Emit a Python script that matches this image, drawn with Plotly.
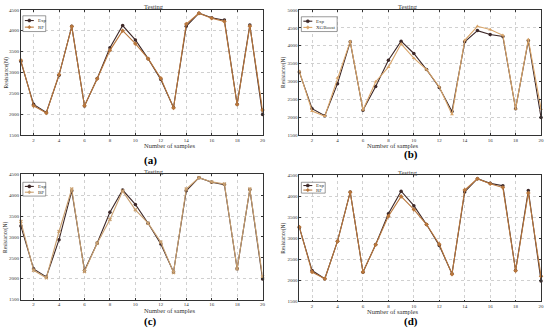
import plotly.graph_objects as go

samples = list(range(1, 21))
x_ticks = [2, 4, 6, 8, 10, 12, 14, 16, 18, 20]

exp_vals = [3260, 2235, 2040, 2935, 4105, 2195, 2855, 3590, 4125, 3780,
            3330, 2830, 2160, 4105, 4420, 4310, 4255, 2235, 4140, 1990]
rf_a = [3290, 2200, 2030, 2950, 4100, 2200, 2850, 3530, 4000, 3690,
        3330, 2860, 2150, 4160, 4420, 4300, 4220, 2230, 4110, 2100]
xgb_b = [3280, 2170, 2025, 3100, 4120, 2200, 2990, 3400, 4050, 3650,
         3330, 2850, 2075, 4150, 4540, 4450, 4290, 2230, 4170, 2230]
bp_c = [3370, 2200, 2020, 3130, 4150, 2170, 2850, 3420, 4100, 3650,
        3330, 2880, 2150, 4150, 4420, 4320, 4270, 2240, 4150, 2050]
rf_d = [3270, 2200, 2040, 2930, 4100, 2200, 2850, 3530, 4000, 3690,
        3330, 2860, 2150, 4150, 4420, 4300, 4210, 2230, 4080, 2100]

W, H = 550, 336
FONT = "Liberation Serif"
EXP_C = "#3d2828"
TXT = "#333333"

panels = [
    # model, values, color, symbol, plot box px (x0,x1,y0,y1), yrange, yticks,
    # panel label + y, x-title y, y-title x, legend box px (x0,x1,y0,y1)
    dict(name="RF", vals=rf_a, col="#b9773c", sym="diamond", box=(21, 264, 8, 135),
         yr=[1500, 4500], yt=list(range(1500, 4501, 500)), lab="(a)", laby=161,
         xty=146, ytx=6, leg=(23, 46, 14, 30)),
    dict(name="XGBoost", vals=xgb_b, col="#d8a468", sym="triangle-up", box=(301, 544, 8, 135),
         yr=[1500, 5000], yt=list(range(1500, 5001, 500)), lab="(b)", laby=155,
         xty=146, ytx=285, leg=(303, 339, 15, 30)),
    dict(name="BP", vals=bp_c, col="#c9a070", sym="x", box=(21, 264, 175, 302),
         yr=[1500, 4500], yt=list(range(1500, 4501, 500)), lab="(c)", laby=324,
         xty=313, ytx=6, leg=(23, 46, 183, 197)),
    dict(name="RF", vals=rf_d, col="#b9773c", sym="diamond", box=(301, 544, 176, 304),
         yr=[1500, 4500], yt=list(range(1500, 4501, 500)), lab="(d)", laby=324,
         xty=314, ytx=285, leg=(303, 327, 183, 194)),
]


def px(x):
    return x / W


def py(y):
    return 1 - y / H


fig = go.Figure()
annotations = []
shapes = []
layout = {}
for i, p in enumerate(panels):
    n = "" if i == 0 else str(i + 1)
    xa, ya = "x" + n, "y" + n
    x0, x1, y0, y1 = p["box"]
    fig.add_trace(go.Scatter(x=samples, y=exp_vals, name="Exp", mode="lines+markers",
                             line=dict(color=EXP_C, width=1.1),
                             marker=dict(symbol="circle", size=3.5, color=EXP_C),
                             cliponaxis=False, showlegend=False,
                             xaxis=xa, yaxis=ya))
    fig.add_trace(go.Scatter(x=samples, y=p["vals"], name=p["name"], mode="lines+markers",
                             line=dict(color=p["col"], width=1.1),
                             marker=dict(symbol=p["sym"], size=3.5, color=p["col"]),
                             cliponaxis=False, showlegend=False,
                             xaxis=xa, yaxis=ya))
    dx = [px(x0), px(x1)]
    dy = [py(y1), py(y0)]
    axcommon = dict(showline=True, linecolor="#333", linewidth=0.8, mirror="ticks",
                    ticks="inside", ticklen=2, tickcolor="#333",
                    showgrid=True, gridcolor="#d0d0d0", griddash="dot", gridwidth=0.6,
                    zeroline=False, tickfont=dict(family=FONT, size=5, color=TXT))
    layout["xaxis" + n] = dict(domain=dx, anchor=ya, range=[1, 20], tickvals=x_ticks,
                               **axcommon)
    layout["yaxis" + n] = dict(domain=dy, anchor=xa, range=p["yr"], tickvals=p["yt"],
                               **axcommon)
    cx = (dx[0] + dx[1]) / 2
    annotations.append(dict(text="Testing", x=cx, y=py(y0 - 3), xref="paper", yref="paper",
                            showarrow=False, yanchor="middle",
                            font=dict(family=FONT, size=6.5, color=TXT)))
    annotations.append(dict(text="Number of samples", x=cx, y=py(p["xty"]), xref="paper",
                            yref="paper", showarrow=False, yanchor="middle",
                            font=dict(family=FONT, size=6.5, color=TXT)))
    annotations.append(dict(text="Resistance(N)", x=px(p["ytx"]), y=(dy[0] + dy[1]) / 2,
                            xref="paper", yref="paper", showarrow=False, textangle=-90,
                            xanchor="center", yanchor="middle",
                            font=dict(family=FONT, size=5.5, color=TXT)))
    annotations.append(dict(text="<b>" + p["lab"] + "</b>", x=cx, y=py(p["laby"]),
                            xref="paper", yref="paper", showarrow=False, yanchor="middle",
                            font=dict(family=FONT, size=11, color="black")))
    # custom compact legend
    lx0, lx1, ly0, ly1 = p["leg"]
    shapes.append(dict(type="rect", xref="paper", yref="paper", x0=px(lx0), x1=px(lx1),
                       y0=py(ly1), y1=py(ly0), line=dict(color="#555", width=0.6),
                       fillcolor="white", layer="above"))
    rows = [(ly0 + (ly1 - ly0) * 0.3, "Exp", EXP_C, "circle"),
            (ly0 + (ly1 - ly0) * 0.72, p["name"], p["col"], p["sym"])]
    for (ry, txt, col, sym) in rows:
        shapes.append(dict(type="line", xref="paper", yref="paper", x0=px(lx0 + 2),
                           x1=px(lx0 + 11), y0=py(ry), y1=py(ry),
                           line=dict(color=col, width=1.1), layer="above"))
        mx = lx0 + 6.5
        shapes.append(dict(type="circle" if sym == "circle" else "path", xref="paper",
                           yref="paper", layer="above",
                           **({"x0": px(mx - 1.6), "x1": px(mx + 1.6), "y0": py(ry + 1.6),
                               "y1": py(ry - 1.6)} if sym == "circle" else
                              {"path": "M {a},{b} L {c},{d} L {e},{f} L {g},{h} Z".format(
                                  a=px(mx), b=py(ry - 1.8), c=px(mx + 1.6), d=py(ry),
                                  e=px(mx), f=py(ry + 1.8), g=px(mx - 1.6), h=py(ry))}),
                           fillcolor=col, line=dict(color=col, width=0.5)))
        annotations.append(dict(text=txt, x=px(lx0 + 13), y=py(ry), xref="paper",
                                yref="paper", xanchor="left", yanchor="middle",
                                showarrow=False,
                                font=dict(family=FONT, size=5, color=TXT)))

fig.update_layout(width=W, height=H, margin=dict(l=0, r=0, t=0, b=0),
                  paper_bgcolor="white", plot_bgcolor="white", showlegend=False,
                  annotations=annotations, shapes=shapes, **layout)
fig.write_html("out.html", config={"displayModeBar": False},
               post_script="document.body.style.margin='0px';"
                           "document.body.style.overflow='hidden';")
